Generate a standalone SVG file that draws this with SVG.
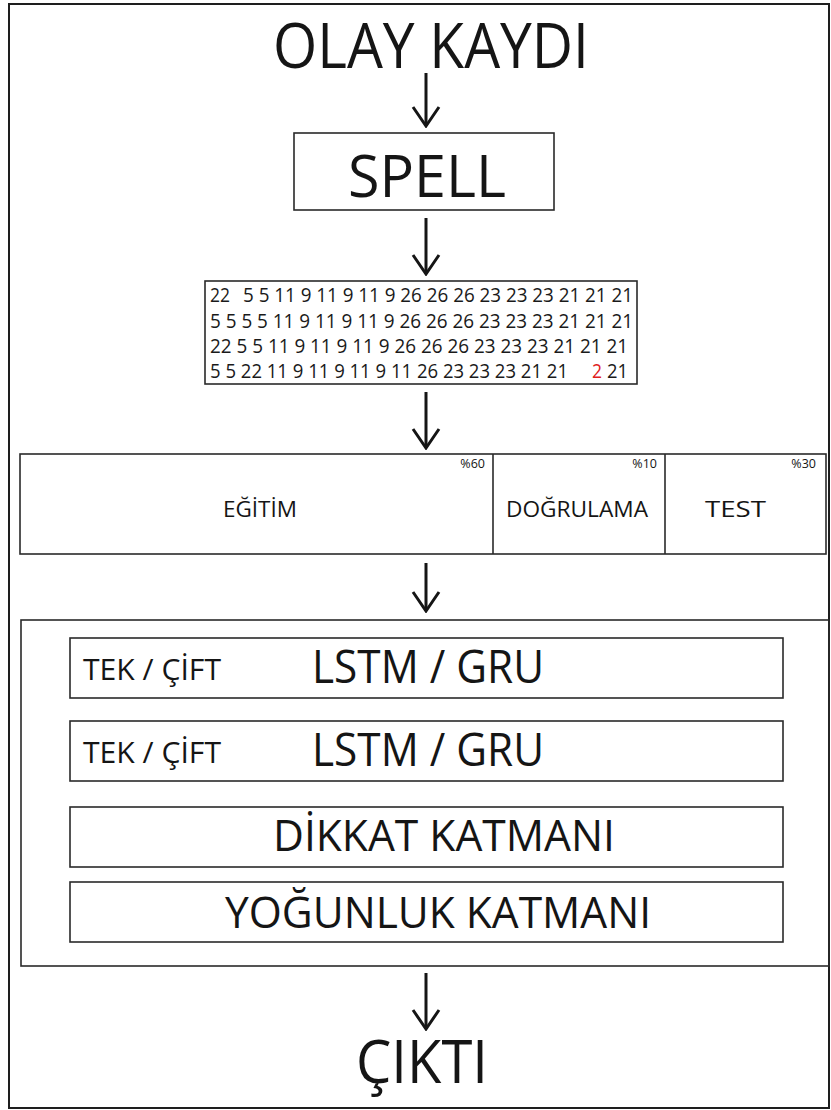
<svg xmlns="http://www.w3.org/2000/svg" width="831" height="1110" viewBox="0 0 831 1110">
  <style>
    .frame { fill: #ffffff; stroke: #1e1e1e; stroke-width: 2; }
    .box { fill: none; stroke: #2a2a2a; stroke-width: 1.6; }
    .t { font-family: "Open Sans", "Liberation Sans", sans-serif; fill: #151515; }
    .num { font-family: "Open Sans", "Liberation Sans", sans-serif; fill: #1a1a1a; font-size: 19.5px; }
    .flow { stroke: #151515; stroke-width: 3; fill: none; marker-end: url(#head); }
  </style>
  <defs>
    <marker id="head" markerUnits="userSpaceOnUse" viewBox="0 0 22 30" refX="20" refY="15" markerWidth="22" markerHeight="30" orient="auto">
      <path d="M1,2 L20,15 L1,28" fill="none" stroke="#151515" stroke-width="3" stroke-linejoin="miter"/>
    </marker>
  </defs>

  <!-- page frame -->
  <rect class="frame" x="9" y="4" width="820" height="1104"/>

  <!-- connectors -->
  <g id="connectors">
    <line class="flow" x1="426" y1="73" x2="426" y2="126"/>
    <line class="flow" x1="426" y1="218" x2="426" y2="274"/>
    <line class="flow" x1="426" y1="392" x2="426" y2="448"/>
    <line class="flow" x1="426" y1="563" x2="426" y2="611"/>
    <line class="flow" x1="426" y1="973" x2="426" y2="1029"/>
  </g>

  <!-- input log -->
  <g id="olay-kaydi">
    <text class="t" x="273" y="68" font-size="63" textLength="316" lengthAdjust="spacingAndGlyphs">OLAY KAYDI</text>
  </g>

  <!-- log parser -->
  <g id="spell">
    <rect class="box" x="294" y="133" width="260" height="77"/>
    <text class="t" x="348" y="197" font-size="59" textLength="158" lengthAdjust="spacingAndGlyphs">SPELL</text>
  </g>

  <!-- event key sequences -->
  <g id="sequences">
    <rect class="box" x="205" y="281" width="432" height="103"/>
    <text class="num" x="210" y="302" textLength="20" lengthAdjust="spacingAndGlyphs">22</text>
    <text class="num" x="243" y="302" textLength="390" lengthAdjust="spacingAndGlyphs">5 5 11 9 11 9 11 9 26 26 26 23 23 23 21 21 21</text>
    <text class="num" x="210" y="328" textLength="423" lengthAdjust="spacingAndGlyphs">5 5 5 5 11 9 11 9 11 9 26 26 26 23 23 23 21 21 21</text>
    <text class="num" x="210" y="353" textLength="418" lengthAdjust="spacingAndGlyphs">22 5 5 11 9 11 9 11 9 26 26 26 23 23 23 21 21 21</text>
    <text class="num" x="210" y="378" textLength="358" lengthAdjust="spacingAndGlyphs">5 5 22 11 9 11 9 11 9 11 26 23 23 23 21 21</text>
    <text class="num" x="592" y="378" fill="#e0201c" style="fill:#e0201c" textLength="10" lengthAdjust="spacingAndGlyphs">2</text>
    <text class="num" x="607" y="378" textLength="21" lengthAdjust="spacingAndGlyphs">21</text>
  </g>

  <!-- dataset split -->
  <g id="split">
    <rect class="box" x="20" y="454" width="806" height="100"/>
    <line class="box" x1="493" y1="454" x2="493" y2="554"/>
    <line class="box" x1="665" y1="454" x2="665" y2="554"/>
    <text class="t" x="485" y="468" font-size="12.5" text-anchor="end">%60</text>
    <text class="t" x="657" y="468" font-size="12.5" text-anchor="end">%10</text>
    <text class="t" x="816" y="468" font-size="12.5" text-anchor="end">%30</text>
    <text class="t" x="223" y="517" font-size="22" textLength="74" lengthAdjust="spacingAndGlyphs">EĞİTİM</text>
    <text class="t" x="506" y="517" font-size="22" textLength="142" lengthAdjust="spacingAndGlyphs">DOĞRULAMA</text>
    <text class="t" x="705" y="517" font-size="22" textLength="61" lengthAdjust="spacingAndGlyphs">TEST</text>
  </g>

  <!-- model -->
  <g id="model">
    <rect class="box" x="21" y="620" width="808" height="346"/>
  </g>
  <g id="rnn-1">
    <rect class="box" x="70" y="638" width="713" height="60"/>
    <text class="t" x="83" y="680" font-size="30" textLength="138" lengthAdjust="spacingAndGlyphs">TEK / ÇİFT</text>
    <text class="t" x="312" y="683" font-size="46" textLength="232" lengthAdjust="spacingAndGlyphs">LSTM / GRU</text>
  </g>
  <g id="rnn-2">
    <rect class="box" x="70" y="721" width="713" height="60"/>
    <text class="t" x="83" y="763" font-size="30" textLength="138" lengthAdjust="spacingAndGlyphs">TEK / ÇİFT</text>
    <text class="t" x="312" y="766" font-size="46" textLength="232" lengthAdjust="spacingAndGlyphs">LSTM / GRU</text>
  </g>
  <g id="attention">
    <rect class="box" x="70" y="807" width="713" height="60"/>
    <text class="t" x="273" y="851" font-size="43" textLength="342" lengthAdjust="spacingAndGlyphs">DİKKAT KATMANI</text>
  </g>
  <g id="dense">
    <rect class="box" x="70" y="882" width="713" height="60"/>
    <text class="t" x="225" y="928" font-size="43" textLength="426" lengthAdjust="spacingAndGlyphs">YOĞUNLUK KATMANI</text>
  </g>

  <!-- output -->
  <g id="cikti">
    <text class="t" x="356" y="1083" font-size="60" textLength="132" lengthAdjust="spacingAndGlyphs">ÇIKTI</text>
  </g>
</svg>
